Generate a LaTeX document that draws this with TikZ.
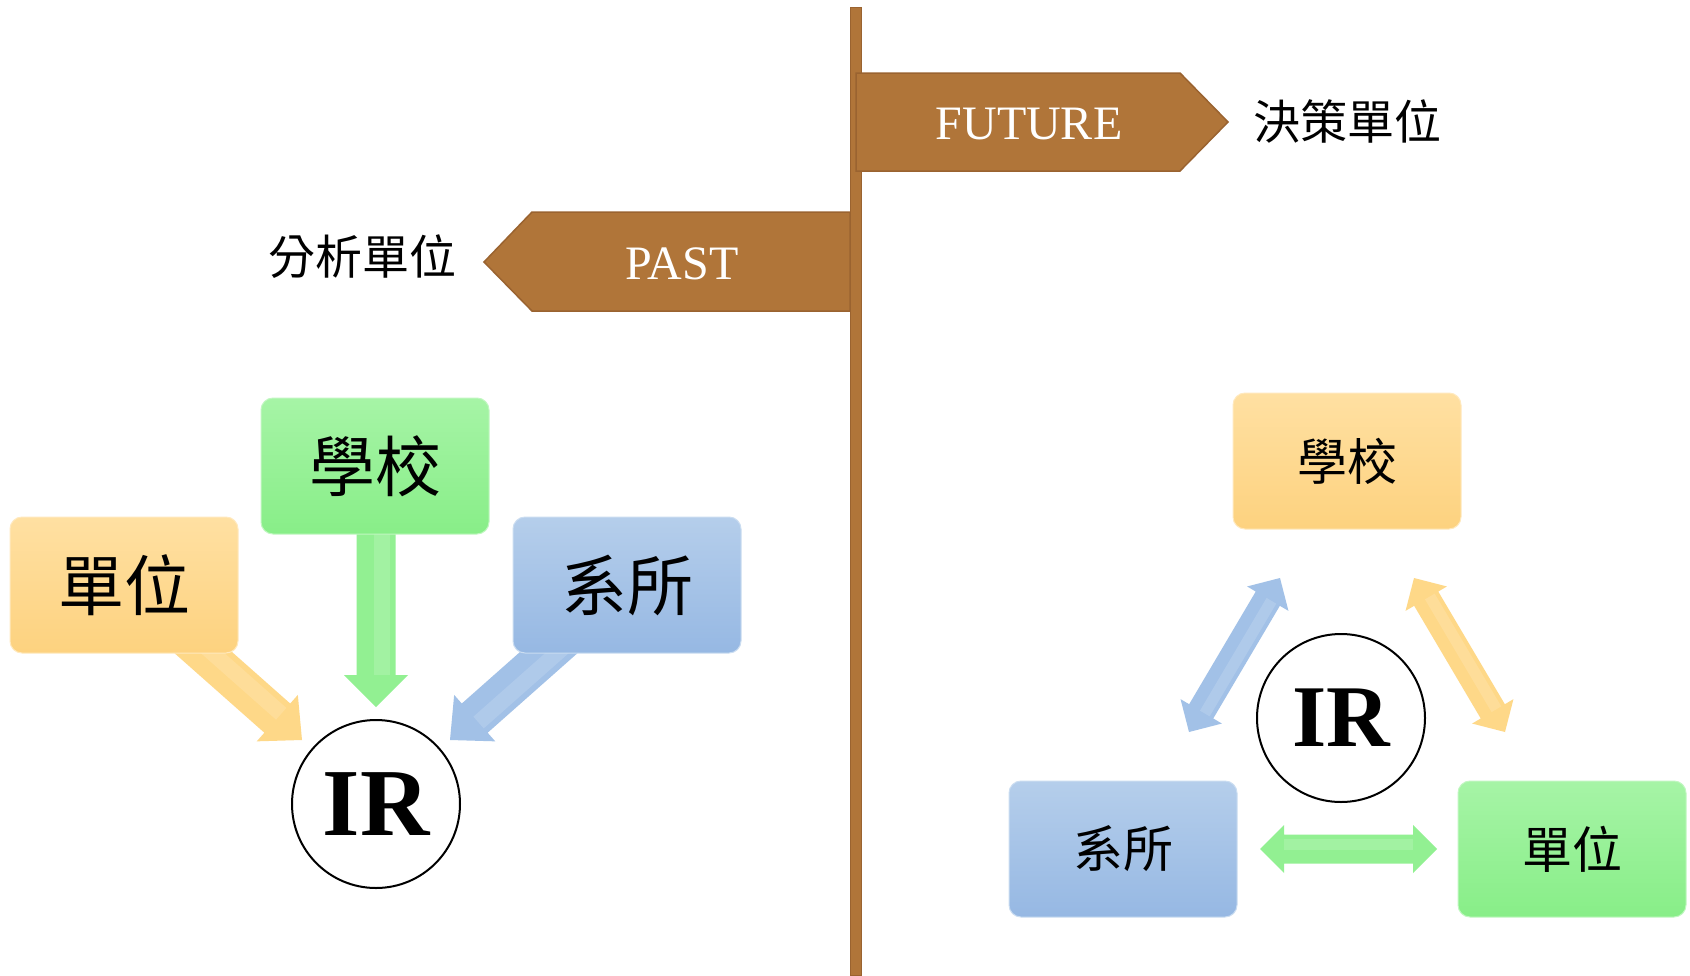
\documentclass[tikz,border=0pt]{standalone}
\usepackage{fontspec}
\setmainfont{Liberation Serif}
\newfontfamily\cjk{Noto Sans CJK TC}
\usetikzlibrary{calc}
\definecolor{signbrown}{HTML}{B07539}
\definecolor{signedge}{HTML}{9A6330}
\definecolor{orgT}{HTML}{FFE0A2}
\definecolor{orgB}{HTML}{FDD27F}
\definecolor{grnT}{HTML}{A6F4A6}
\definecolor{grnB}{HTML}{88EE88}
\definecolor{bluT}{HTML}{B5CEEB}
\definecolor{bluB}{HTML}{96B8E3}
\definecolor{orgA}{HTML}{FED888}
\definecolor{grnA}{HTML}{92F092}
\definecolor{bluA}{HTML}{A2C1E7}
\newcommand\blockarrow[6]{%
  \coordinate (tmpH) at ($(#2)!#5!(#1)$);
  \fill[#6] ($(#1)!#3!90:(#2)$) -- ($(tmpH)!#3!-90:(#1)$) -- ($(tmpH)!#4!-90:(#1)$) -- (#2)
     -- ($(tmpH)!#4!90:(#1)$) -- ($(tmpH)!#3!90:(#1)$) -- ($(#1)!#3!-90:(#2)$) -- cycle;
  \draw[white,opacity=0.15,line width=#3*0.8] ($(#1)!#3*0.3!90:(#2)$) -- ($(tmpH)!#3*0.3!-90:(#1)$);
}
\newcommand\dblarrow[6]{%
  \coordinate (tmpP) at ($(#1)!#5!(#2)$);
  \coordinate (tmpQ) at ($(#2)!#5!(#1)$);
  \fill[#6] (#1) -- ($(tmpP)!#4!90:(#2)$) -- ($(tmpP)!#3!90:(#2)$) -- ($(tmpQ)!#3!-90:(#1)$)
     -- ($(tmpQ)!#4!-90:(#1)$) -- (#2) -- ($(tmpQ)!#4!90:(#1)$) -- ($(tmpQ)!#3!90:(#1)$)
     -- ($(tmpP)!#3!-90:(#2)$) -- ($(tmpP)!#4!-90:(#2)$) -- cycle;
  \draw[white,opacity=0.15,line width=#3*0.8] ($(tmpP)!#3*0.3!90:(#2)$) -- ($(tmpQ)!#3*0.3!-90:(#1)$);
}
\tikzset{
  box/.style={rounded corners=12pt, minimum width=228pt, minimum height=136pt, inner sep=0pt},
  orgbox/.style={box, top color=orgT, bottom color=orgB, draw=orgT!70!white, line width=1pt},
  grnbox/.style={box, top color=grnT, bottom color=grnB, draw=grnT!70!white, line width=1pt},
  blubox/.style={box, top color=bluT, bottom color=bluB, draw=bluT!70!white, line width=1pt},
  bigcjk/.style={font=\cjk\fontsize{66}{70}\selectfont},
  smallcjk/.style={font=\cjk\fontsize{50}{54}\selectfont},
  labelcjk/.style={font=\cjk\fontsize{47}{50}\selectfont},
  signtext/.style={text=white, font=\fontsize{48}{52}\selectfont},
  irnode/.style={circle, draw=black, line width=2pt, fill=white, minimum size=168pt, inner sep=0pt},
  sign/.style={fill=signbrown, draw=signedge, line width=1.5pt},
}
\begin{document}
\begin{tikzpicture}[x=1pt,y=-1pt]
\useasboundingbox (0,0) rectangle (1690,975);
\fill[white] (0,0) rectangle (1690,975);
% pole
\filldraw[fill=signbrown, draw=signedge, line width=1pt] (850,7) rectangle (861,975);
% signs
\filldraw[sign] (856,73) -- (1180,73) -- (1228,122) -- (1180,171) -- (856,171) -- cycle;
\filldraw[sign] (850,212) -- (532,212) -- (484,262) -- (532,311) -- (850,311) -- cycle;
\node[signtext] (future) at (1029,124) {FUTURE};
\node[signtext] (past) at (682,264) {PAST};
\node[labelcjk] (decide) at (1347,121) {決策單位};
\node[labelcjk] (analyse) at (362,257) {分析單位};
% left group arrows
\coordinate (oT) at (180,632); \coordinate (oH) at (302,740);
\coordinate (gT) at (376,520); \coordinate (gH) at (376,707);
\coordinate (bT) at (572,632); \coordinate (bH) at (450,740);
\blockarrow{oT}{oH}{19.5pt}{31pt}{33pt}{orgA}
\blockarrow{gT}{gH}{19.5pt}{32pt}{32pt}{grnA}
\blockarrow{bT}{bH}{19.5pt}{31pt}{33pt}{bluA}
% left boxes
\node[orgbox, bigcjk] (unitL) at (124,585) {單位};
\node[grnbox, bigcjk] (schoolL) at (375,466) {學校};
\node[blubox, bigcjk] (deptL) at (627,585) {系所};
\node[irnode, font=\bfseries\fontsize{96}{100}\selectfont] (irL) at (376,804) {IR};
% right group
\node[orgbox, smallcjk] (schoolR) at (1347,461) {學校};
\node[blubox, smallcjk] (deptR) at (1123,849) {系所};
\node[grnbox, smallcjk] (unitR) at (1572,849) {單位};
\node[irnode, font=\bfseries\fontsize{88}{92}\selectfont] (irR) at (1341,718) {IR};
\coordinate (b1) at (1280,578); \coordinate (b2) at (1189,732);
\coordinate (o1) at (1414,578); \coordinate (o2) at (1505,732);
\coordinate (g1) at (1260,849); \coordinate (g2) at (1437,849);
\dblarrow{b1}{b2}{14pt}{24pt}{24pt}{bluA}
\dblarrow{o1}{o2}{14pt}{24pt}{24pt}{orgA}
\dblarrow{g1}{g2}{14.5pt}{24pt}{24pt}{grnA}
\end{tikzpicture}
\end{document}
